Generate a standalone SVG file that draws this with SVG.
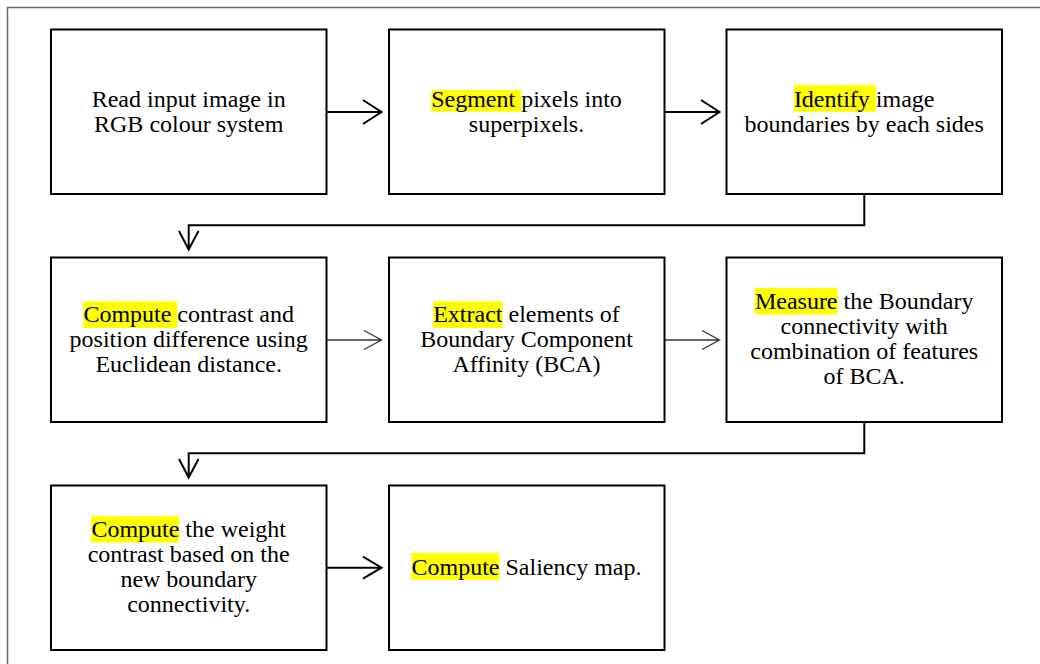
<svg xmlns="http://www.w3.org/2000/svg" width="1040" height="664" viewBox="0 0 1040 664">
<style>
.box{fill:#fff;stroke:#000;stroke-width:2}
.t{font-family:"Liberation Serif","Times New Roman",serif;font-size:24px;fill:#000;text-anchor:middle}
.hl{fill:#ffff00}
.c{fill:none;stroke:#000;stroke-width:2}
.cthin{fill:none;stroke:#333;stroke-width:1.3}
</style>
<rect x="0" y="0" width="1040" height="664" fill="#fff"/>
<rect x="7.5" y="7.5" width="1045" height="670" fill="none" stroke="#666" stroke-width="1.5"/>
<g id="connectors">
<path class="c" d="M326 112H381.5M363 100L381.5 112L363 124"/>
<path class="c" d="M664 112H719.5M701 100L719.5 112L701 124"/>
<path class="c" d="M864.3 194V225.3H188.7V249.5M179 231L188.7 249.5L198.5 231"/>
<path class="cthin" d="M326 340H381.5M364 330.5L381.5 340L364 349.5"/>
<path class="cthin" d="M664 340H719.5M702 330.5L719.5 340L702 349.5"/>
<path class="c" d="M864.3 422.5V453.3H188.7V477.5M179 459L188.7 477.5L198.5 459"/>
<path class="c" d="M326 567.7H381.5M363 556.7L381.5 567.7L363 578.7"/>
</g>
<g id="n1">
<rect class="box" x="51" y="29.5" width="275.5" height="164.5"/>
<text class="t" x="188.7" y="106.5">Read input image in</text>
<text class="t" x="188.7" y="131.5">RGB colour system</text>
</g>
<g id="n2">
<rect class="box" x="389" y="29.5" width="275.5" height="164.5"/>
<rect class="hl" x="431.2" y="90" width="90" height="21.7"/>
<text class="t" x="526.5" y="106.5">Segment pixels into</text>
<text class="t" x="526.5" y="131.5">superpixels.</text>
</g>
<g id="n3">
<rect class="box" x="726.5" y="29.5" width="275.5" height="164.5"/>
<rect class="hl" x="793.9" y="85" width="82" height="26.7"/>
<text class="t" x="864.2" y="106.5">Identify image</text>
<text class="t" x="864.2" y="131.5">boundaries by each sides</text>
</g>
<g id="n4">
<rect class="box" x="51" y="257.5" width="275.5" height="164.5"/>
<rect class="hl" x="83.2" y="301.3" width="94" height="26.7"/>
<text class="t" x="188.7" y="321.8">Compute contrast and</text>
<text class="t" x="188.7" y="346.8">position difference using</text>
<text class="t" x="188.7" y="371.8">Euclidean distance.</text>
</g>
<g id="n5">
<rect class="box" x="389" y="257.5" width="275.5" height="164.5"/>
<rect class="hl" x="433.2" y="301.3" width="69.3" height="26.7"/>
<text class="t" x="526.5" y="321.8">Extract elements of</text>
<text class="t" x="526.5" y="346.8">Boundary Component</text>
<text class="t" x="526.5" y="371.8">Affinity (BCA)</text>
</g>
<g id="n6">
<rect class="box" x="726.5" y="257.5" width="275.5" height="164.5"/>
<rect class="hl" x="754.9" y="288" width="82.6" height="26.7"/>
<text class="t" x="864.2" y="309.3">Measure the Boundary</text>
<text class="t" x="864.2" y="334.3">connectivity with</text>
<text class="t" x="864.2" y="359.3">combination of features</text>
<text class="t" x="864.2" y="384.3">of BCA.</text>
</g>
<g id="n7">
<rect class="box" x="51" y="485.5" width="275.5" height="164.5"/>
<rect class="hl" x="91.2" y="516" width="88" height="26.5"/>
<text class="t" x="188.7" y="537.2">Compute the weight</text>
<text class="t" x="188.7" y="562.2">contrast based on the</text>
<text class="t" x="188.7" y="587.2">new boundary</text>
<text class="t" x="188.7" y="612.2">connectivity.</text>
</g>
<g id="n8">
<rect class="box" x="389" y="485.5" width="275.5" height="164.5"/>
<rect class="hl" x="411.5" y="553" width="88" height="27"/>
<text class="t" x="526.5" y="574.7">Compute Saliency map.</text>
</g>
</svg>
